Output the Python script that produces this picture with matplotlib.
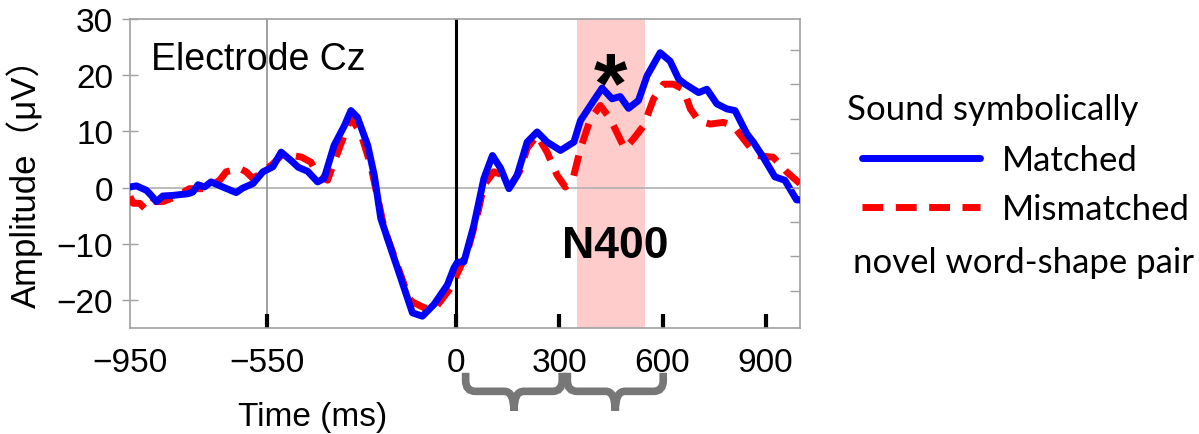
import numpy as np
import matplotlib
matplotlib.use("Agg")
import matplotlib.pyplot as plt
from matplotlib.path import Path
from matplotlib.patches import PathPatch
import matplotlib.transforms as mtransforms

plt.rcParams['font.family'] = ['Liberation Sans', 'Noto Sans CJK JP', 'DejaVu Sans']

# ERP waveforms (ms, uV)
t_matched = [-950, -931, -902, -888, -873, -854, -825, -781, -767, -752, -733, -714, -680,
             -641, -622, -592, -563, -534, -510, -481, -460, -433, -404, -385, -356, -326,
             -307, -288, -258, -239, -220, -191, -152, -128, -99, -65, -26, -7, 3, 22, 51,
             80, 105, 129, 153, 177, 206, 235, 264, 303, 342, 361, 390, 424, 453, 477, 501,
             530, 555, 593, 622, 647, 666, 705, 729, 758, 787, 811, 845, 864, 893, 927, 956,
             990, 1000]
v_matched = [0.1, 0.3, -0.5, -1.4, -2.5, -1.5, -1.4, -1.1, -0.8, 0.5, 0.1, 1.0, 0.1,
             -0.9, -0.1, 0.7, 2.8, 3.7, 6.3, 4.8, 3.6, 2.9, 1.0, 1.6, 7.5, 11.0,
             13.7, 12.5, 7.5, 2.2, -5.5, -10.8, -17.9, -22.3, -22.9, -20.8, -17.3, -14.3, -13.3, -13.2, -6.7,
             1.6, 5.7, 3.4, -0.2, 2.2, 8.1, 9.9, 8.1, 6.6, 8.1, 11.9, 14.6, 17.7, 15.8, 16.2, 14.1,
             15.5, 19.9, 24.0, 22.5, 19.3, 18.4, 16.9, 17.5, 14.9, 14.0, 13.7, 9.6, 8.1, 5.4, 1.9, 1.3,
             -2.2, -2.2]

t_mismatched = [-950, -941, -922, -902, -883, -854, -815, -777, -728, -689, -670, -631, -612,
                -592, -563, -534, -505, -476, -450, -423, -409, -375, -356, -307, -278, -249,
                -210, -152, -133, -94, -65, -17, 8, 32, 61, 80, 109, 138, 160, 185, 206, 235,
                264, 293, 317, 337, 361, 390, 419, 448, 490, 516, 545, 574, 603, 632, 661,
                681, 705, 739, 777, 806, 835, 874, 922, 961, 1000]
v_mismatched = [-1.6, -2.8, -2.8, -4.0, -2.5, -2.5, -1.6, -0.2, -0.2, 1.3, 2.8, 3.4, 2.8,
                1.6, 2.8, 4.2, 6.0, 5.7, 5.4, 4.5, 2.8, 1.3, 4.5, 12.5, 9.6, 3.9,
                -7.3, -17.3, -20.2, -21.4, -21.7, -17.9, -14.6, -11.4, -4.9, 0.4, 2.8, 2.2, 0.5, 3.0, 7.0, 9.3,
                6.3, 2.2, 0.1, 1.0, 6.9, 12.2, 14.6, 12.2, 6.9, 8.7, 11.0, 15.8, 18.4, 18.4, 17.5,
                14.0, 11.9, 11.3, 11.6, 11.0, 8.7, 5.7, 5.4, 2.8, 0.7]

x_ticks = [-950, -550, 0, 300, 600, 900]
y_ticks = [-20, -10, 0, 10, 20, 30]
right_ticks = [-18.4, -12.2, -6.1, 0, 6.1, 12.2, 18.4, 24.5]
n400_window = (350, 550)
brace_spans = [(27, 308), (323, 602)]

fig = plt.figure(figsize=(11.99, 4.35), dpi=100)
ax = fig.add_axes([0.1084, 0.2437, 0.5588, 0.7103])

ax.axvspan(n400_window[0], n400_window[1], color="#FFCCCC", lw=0, zorder=0)
ax.axhline(0, color="#b0b0b0", lw=1.2, zorder=1)
ax.axvline(-550, color="#909090", lw=1.2, zorder=1)
ax.axvline(0, color="black", lw=2.2, zorder=2)

ax.plot(t_mismatched, v_mismatched, color="#FF0000", lw=5, dashes=(3, 1.8),
        dash_capstyle="butt", dash_joinstyle="round", label="Mismatched", zorder=3)
ax.plot(t_matched, v_matched, color="#0000FF", lw=5, solid_joinstyle="round",
        solid_capstyle="round", label="Matched", zorder=4)

ax.set_xlim(-950, 1000)
ax.set_ylim(-25, 30)
ax.set_xticks(x_ticks)
ax.set_xticklabels([str(v).replace("-", "\u2212") for v in x_ticks])
ax.set_yticks(y_ticks)
ax.set_yticklabels([str(v).replace("-", "\u2212") for v in y_ticks])
ax.tick_params(axis="x", direction="in", length=10, width=3, color="black",
               labelsize=24, pad=14)
ax.tick_params(axis="y", direction="inout", length=12, width=1, color="#a0a0a0",
               labelsize=24, pad=6)
ax.xaxis.get_major_ticks()[0].tick1line.set_visible(False)
for s in ax.spines.values():
    s.set_color("#a0a0a0")
    s.set_linewidth(1.2)

ax2 = ax.twinx()
ax2.set_ylim(-25, 30)
ax2.set_yticks(right_ticks)
ax2.set_yticklabels([])
ax2.tick_params(axis="y", direction="in", length=7, width=1, color="#a0a0a0")
for s in ax2.spines.values():
    s.set_visible(False)

ax.set_ylabel("Amplitude（μV）", fontsize=25, labelpad=10)
ax.set_xlabel("Time (ms)", fontsize=24, va="center")
ax.xaxis.set_label_coords(0.272, -0.285)

ax.text(0.032, 0.87, "Electrode Cz", transform=ax.transAxes, fontsize=27,
        ha="left", va="center")
ax.text(449, 13.6, "*", fontsize=62, fontweight="bold", ha="center", va="baseline")
ax.text(463, -10.3, "N400", fontsize=32, fontweight="bold", ha="center", va="center")

# curly braces under the axis
trans = mtransforms.blended_transform_factory(ax.transData, ax.transAxes)
y_top, y_mid, y_tip = -0.145, -0.205, -0.268
rx, ry = 28, 0.035
for x0, x1 in brace_spans:
    xc = (x0 + x1) / 2
    verts = [(x0, y_top), (x0, y_mid + ry), (x0, y_mid), (x0 + rx, y_mid),
             (xc - rx, y_mid), (xc, y_mid), (xc, y_tip),
             (x1, y_top), (x1, y_mid + ry), (x1, y_mid), (x1 - rx, y_mid),
             (xc + rx, y_mid), (xc, y_mid), (xc, y_tip)]
    codes = [Path.MOVETO, Path.LINETO, Path.CURVE3, Path.CURVE3,
             Path.LINETO, Path.CURVE3, Path.CURVE3] * 2
    ax.add_patch(PathPatch(Path(verts, codes), transform=trans, fill=False,
                           edgecolor="#777777", lw=5.5, capstyle="butt", clip_on=False))

handles, labels = ax.get_legend_handles_labels()
fig.text(0.7064, 0.747, "Sound symbolically", family="Lato", fontsize=25,
         ha="left", va="center")
leg = fig.legend(handles[::-1], labels[::-1], loc="upper left",
                 bbox_to_anchor=(0.719, 0.667), frameon=False,
                 handlelength=3.4, handletextpad=0.63, labelspacing=0.5,
                 prop={"family": "Lato", "size": 25},
                 borderpad=0, borderaxespad=0)
fig.text(0.7114, 0.3954, "novel word-shape pair", family="Lato", fontsize=25,
         ha="left", va="center")

fig.savefig("out.png", dpi=100)
